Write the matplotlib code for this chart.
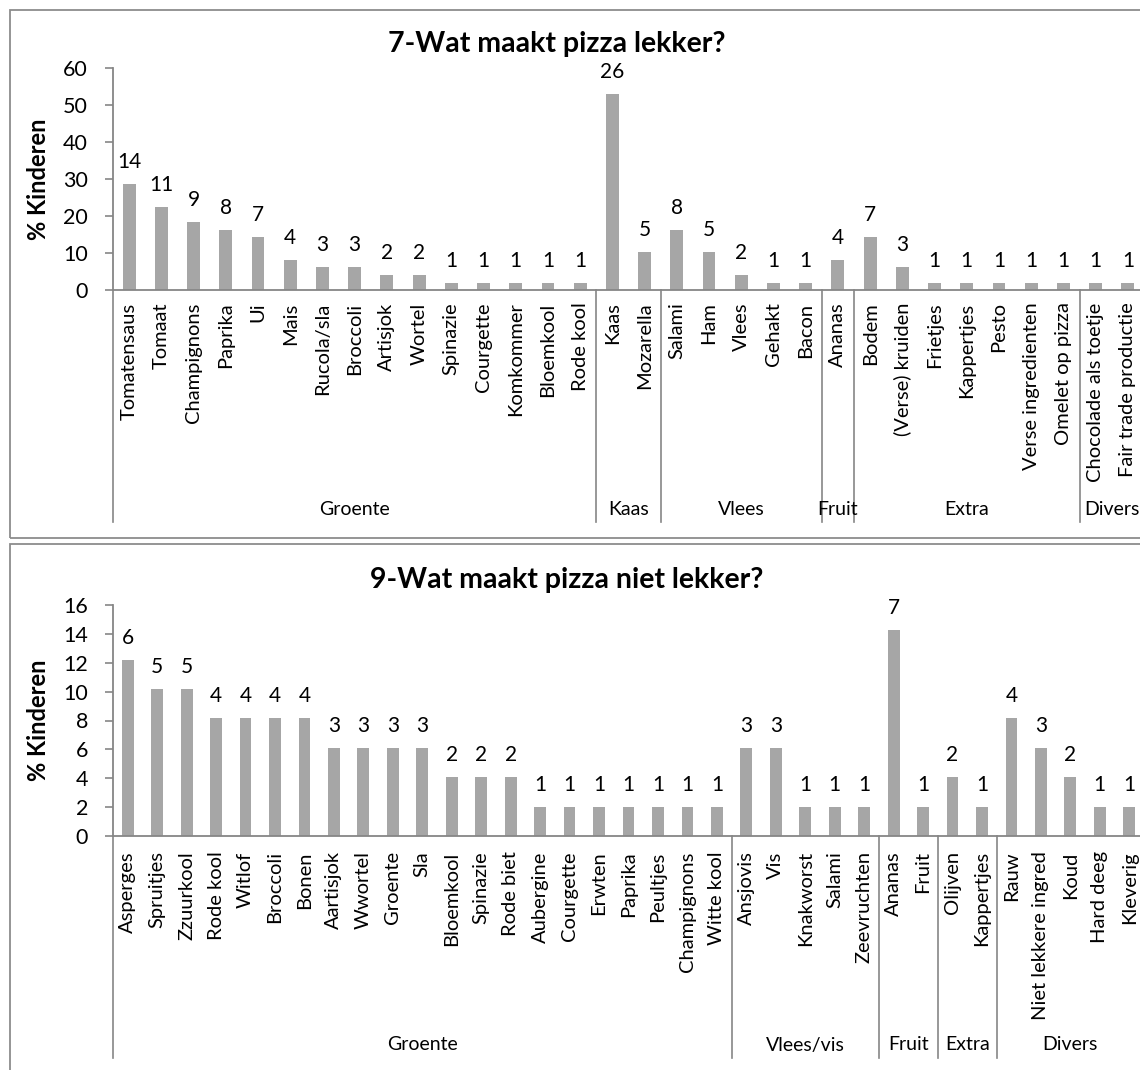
"""Two stacked bar charts: what makes pizza tasty / not tasty (% of kids)."""
import matplotlib

matplotlib.use("Agg")
import matplotlib.pyplot as plt
from matplotlib.patches import Rectangle
from matplotlib.transforms import blended_transform_factory

# ---- top chart: 7-Wat maakt pizza lekker? ----
LEKKER_ITEMS = [
    "Tomatensaus", "Tomaat", "Champignons", "Paprika", "Ui", "Mais", "Rucola/sla",
    "Broccoli", "Artisjok", "Wortel", "Spinazie", "Courgette", "Komkommer",
    "Bloemkool", "Rode kool",
    "Kaas", "Mozarella",
    "Salami", "Ham", "Vlees", "Gehakt", "Bacon",
    "Ananas",
    "Bodem", "(Verse) kruiden", "Frietjes", "Kappertjes", "Pesto",
    "Verse ingredienten", "Omelet op pizza",
    "Chocolade als toetje", "Fair trade productie",
]
LEKKER_COUNTS = [14, 11, 9, 8, 7, 4, 3, 3, 2, 2, 1, 1, 1, 1, 1,
                 26, 5,
                 8, 5, 2, 1, 1,
                 4,
                 7, 3, 1, 1, 1, 1, 1,
                 1, 1]
LEKKER_PCT = [28.6, 22.4, 18.4, 16.3, 14.3, 8.2, 6.1, 6.1, 4.1, 4.1, 2.0, 2.0, 2.0, 2.0, 2.0,
              53.1, 10.2,
              16.3, 10.2, 4.1, 2.0, 2.0,
              8.2,
              14.3, 6.1, 2.0, 2.0, 2.0, 2.0, 2.0,
              2.0, 2.0]
LEKKER_GROUPS = ["Groente", "Kaas", "Vlees", "Fruit", "Extra", "Divers"]
LEKKER_GROUP_SIZES = [15, 2, 5, 1, 7, 2]

# ---- bottom chart: 9-Wat maakt pizza niet lekker? ----
NIET_ITEMS = [
    "Asperges", "Spruitjes", "Zzuurkool", "Rode kool", "Witlof", "Broccoli", "Bonen",
    "Aartisjok", "Wwortel", "Groente", "Sla", "Bloemkool", "Spinazie", "Rode biet",
    "Aubergine", "Courgette", "Erwten", "Paprika", "Peultjes", "Champignons", "Witte kool",
    "Ansjovis", "Vis", "Knakworst", "Salami", "Zeevruchten",
    "Ananas", "Fruit",
    "Olijven", "Kappertjes",
    "Rauw", "Niet lekkere ingred", "Koud", "Hard deeg", "Kleverig",
]
NIET_COUNTS = [6, 5, 5, 4, 4, 4, 4, 3, 3, 3, 3, 2, 2, 2, 1, 1, 1, 1, 1, 1, 1,
               3, 3, 1, 1, 1,
               7, 1,
               2, 1,
               4, 3, 2, 1, 1]
NIET_PCT = [12.2, 10.2, 10.2, 8.2, 8.2, 8.2, 8.2, 6.1, 6.1, 6.1, 6.1, 4.1, 4.1, 4.1,
            2.0, 2.0, 2.0, 2.0, 2.0, 2.0, 2.0,
            6.1, 6.1, 2.0, 2.0, 2.0,
            14.3, 2.0,
            4.1, 2.0,
            8.2, 6.1, 4.1, 2.0, 2.0]
NIET_GROUPS = ["Groente", "Vlees/vis", "Fruit", "Extra", "Divers"]
NIET_GROUP_SIZES = [21, 5, 2, 2, 5]

W, H = 1140, 1070
BAR_COLOR = "#A6A6A6"
AXIS_COLOR = "#868686"
TEXT_FONT = ["Lato", "DejaVu Sans"]


def fx(px):
    return px / W


def fy(py):
    return 1 - py / H


def draw_panel(fig, box, ax_rect, title, title_pos, items, counts, pct, groups, sizes,
               ymax, ystep, label_pad, line_bottom, group_y):
    # outer border of the chart area
    bx0, by0, bx1, by1 = box
    fig.patches.append(Rectangle((fx(bx0), fy(by1)), fx(bx1 - bx0), (by1 - by0) / H,
                                 transform=fig.transFigure, fill=False,
                                 edgecolor="#8C8C8C", linewidth=1.3))

    left, top, right, bottom = ax_rect
    ax = fig.add_axes([fx(left), fy(bottom), fx(right - left), (bottom - top) / H])
    x = list(range(len(items)))
    ax.bar(x, pct, width=0.4, color=BAR_COLOR, zorder=2)
    for xi, p, c in zip(x, pct, counts):
        ax.annotate(str(c), (xi, p), xytext=(0, 11.5), textcoords="offset points",
                    ha="center", va="baseline", fontsize=15, family=TEXT_FONT,
                    annotation_clip=False)

    ax.set_xlim(-0.5, len(items) - 0.5)
    ax.set_ylim(0, ymax)
    ax.set_yticks(range(0, ymax + 1, ystep))
    ax.tick_params(axis="y", labelsize=15.5, length=6, width=1.2, color=AXIS_COLOR, pad=12)
    for lab in ax.get_yticklabels():
        lab.set_family(TEXT_FONT)
    ax.set_xticks(x)
    ax.set_xticklabels(items, rotation=90, fontsize=14.5, family=TEXT_FONT)
    ax.tick_params(axis="x", length=0, pad=label_pad)

    for side in ("top", "right"):
        ax.spines[side].set_visible(False)
    for side in ("left", "bottom"):
        ax.spines[side].set_color(AXIS_COLOR)
        ax.spines[side].set_linewidth(1.3)

    fig.text(fx(38), fy((top + bottom) / 2), "% Kinderen", rotation=90, ha="center",
             va="center", fontsize=17, fontweight="bold", family=TEXT_FONT)

    # multi-level category axis: divider lines and group names
    trans = blended_transform_factory(ax.transData, fig.transFigure)
    start = -0.5
    edges = [start]
    for s in sizes:
        start += s
        edges.append(start)
    for e in edges:
        ax.plot([e, e], [fy(bottom), fy(line_bottom)], color=AXIS_COLOR, linewidth=1.2,
                transform=trans, clip_on=False)
    for name, a, b in zip(groups, edges[:-1], edges[1:]):
        ax.text((a + b) / 2, fy(group_y), name, transform=trans, ha="center",
                va="center", fontsize=14, family=TEXT_FONT)

    tx, ty = title_pos
    fig.text(fx(tx), fy(ty), title, ha="center", va="baseline", fontsize=20.5,
             fontweight="bold", family=TEXT_FONT)
    return ax


def main() -> None:
    fig = plt.figure(figsize=(W / 100, H / 100), dpi=100)

    draw_panel(fig, (10, 10, 1165, 538), (113, 68, 1144, 290),
               "7-Wat maakt pizza lekker?", (557, 52),
               LEKKER_ITEMS, LEKKER_COUNTS, LEKKER_PCT, LEKKER_GROUPS, LEKKER_GROUP_SIZES,
               60, 10, 9, 522, 510)
    draw_panel(fig, (10, 544, 1165, 1090), (113, 605, 1144, 836),
               "9-Wat maakt pizza niet lekker?", (567, 588),
               NIET_ITEMS, NIET_COUNTS, NIET_PCT, NIET_GROUPS, NIET_GROUP_SIZES,
               16, 2, 11, 1058, 1045)

    fig.savefig("out.png", dpi=100)
    plt.close(fig)


if __name__ == "__main__":
    main()
